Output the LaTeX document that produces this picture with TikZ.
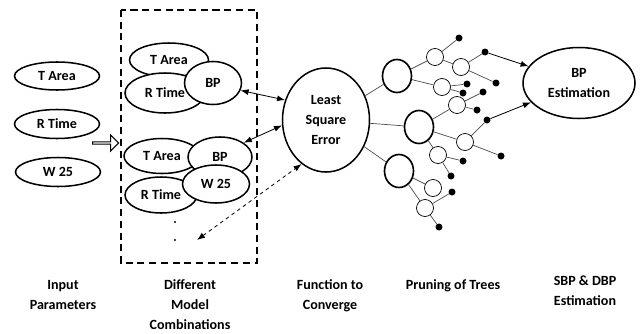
\documentclass[tikz,border=0pt]{standalone}
\usepackage{fontspec}
\setmainfont{Carlito}
\usetikzlibrary{shapes.geometric,shapes.arrows,arrows.meta}
\newcommand{\lbl}{\bfseries\fontsize{12}{17}\selectfont}

\begin{document}
\begin{tikzpicture}[x=0.3mm,y=-0.3mm,font=\lbl,>={Latex[length=2.4mm,width=1.8mm]},
   oval/.style={ellipse,draw,line width=1.3pt,fill=white,inner sep=0pt,align=center},
   trunk/.style={ellipse,draw,line width=1.4pt,fill=white,minimum width=8.7mm,minimum height=9.9mm},
   knot/.style={circle,draw,line width=0.6pt,fill=white,minimum size=5.1mm,inner sep=0pt},
   leaf/.style={circle,fill=black,minimum size=2.1mm,inner sep=0pt},
   twig/.style={black!70,line width=0.6pt},
   dotv/.style={circle,fill=black,minimum size=0.7mm,inner sep=0pt},
   caption/.style={align=center}]
  \useasboundingbox (0,0) rectangle (643,333);

  \node[oval,minimum width=25.5mm,minimum height=8.4mm] (inta) at (57,76) {T Area};
  \node[oval,minimum width=25.5mm,minimum height=8.7mm] (intr) at (57,124) {R Time};
  \node[oval,minimum width=25.5mm,minimum height=8.7mm] (inw) at (58,172) {W 25};
  \node[single arrow,draw,line width=0.9pt,minimum height=7.8mm,minimum width=4.8mm,
        single arrow head extend=1mm,inner sep=0pt] (push) at (105,143) {};

  \draw[line width=1.1pt,dash pattern=on 6pt off 4pt] (121,10) rectangle (257,263);
  \node[oval,minimum width=23.7mm,minimum height=10.2mm] (taa) at (169,60) {T Area};
  \node[oval,minimum width=24mm,minimum height=12mm] (rta) at (165,93) {R Time};
  \node[oval,minimum width=17.1mm,minimum height=12.9mm] (bpa) at (213,83) {BP};
  \node[oval,minimum width=22.8mm,minimum height=10.5mm] (tab) at (162,156) {T Area};
  \node[oval,minimum width=21.6mm,minimum height=10.8mm] (rtb) at (161,195) {R Time};
  \node[oval,minimum width=19.2mm,minimum height=12mm] (bpb) at (220,157) {BP};
  \node[oval,minimum width=20.1mm,minimum height=11.4mm] (wb) at (216,184) {W 25};
  \node[dotv] (va) at (175,222) {};
  \node[dotv] (vb) at (175,240) {};
  \coordinate (more) at (197,240);

  \node[oval,minimum width=26.1mm,minimum height=31.2mm] (lse) at (326,120) {Least\\Square\\Error};
  \draw[<->,line width=0.7pt] (bpa.-15) -- (lse.154);
  \draw[<->,line width=0.7pt] (bpb.31) -- (lse.187);
  \draw[<->,line width=0.7pt,dashed] (more) -- (lse.241);

  \node[trunk] (ta) at (397,76) {};
  \node[trunk] (tb) at (419,127) {};
  \node[trunk] (tc) at (399,171) {};
  \foreach \t in {ta,tb,tc}
    \draw[twig] (lse) -- (\t);
  \foreach \n/\x/\y in {ka/435/57,kb/461/67,kc/442/87,kd/457/105,ke/465/142,kf/438/155,kg/433/188,kh/425/208}
    \node[knot] (\n) at (\x,\y) {};
  \foreach \n/\x/\y in {la/459/38,lb/485/52,lc/496/83,ld/467/84,le/463/93,lf/483/92,lg/477/110,
                        lh/487/120,li/501/156,lj/463/161,lk/451/176,ll/452/192,lm/439/227}
    \node[leaf] (\n) at (\x,\y) {};
  \foreach \p/\c in {ta/ka,ta/kc,ka/kb,tb/kd,tb/ke,tb/kf,tc/kg,tc/kh,
                     ka/la,kb/lb,kb/lc,kc/ld,kc/le,kd/lf,kd/lg,ke/lh,ke/li,kf/lj,kf/lk,kh/ll,kh/lm}
    \draw[twig] (\p) -- (\c);

  \node[oval,minimum width=33.6mm,minimum height=21.3mm] (bpe) at (579,83) {BP\\Estimation};
  \draw[->,line width=0.7pt] (lb) -- (bpe);
  \draw[->,line width=0.7pt] (lh) -- (bpe);

  \node[caption] (lbin) at (63,295) {Input\\Parameters};
  \node[caption] (lbcomb) at (190,305) {Different\\Model\\Combinations};
  \node[caption] (lbfun) at (330,296) {Function to\\Converge};
  \node[caption] (lbprune) at (453,286) {Pruning of Trees};
  \node[caption] (lbest) at (585,291) {SBP \& DBP\\Estimation};
\end{tikzpicture}
\end{document}
